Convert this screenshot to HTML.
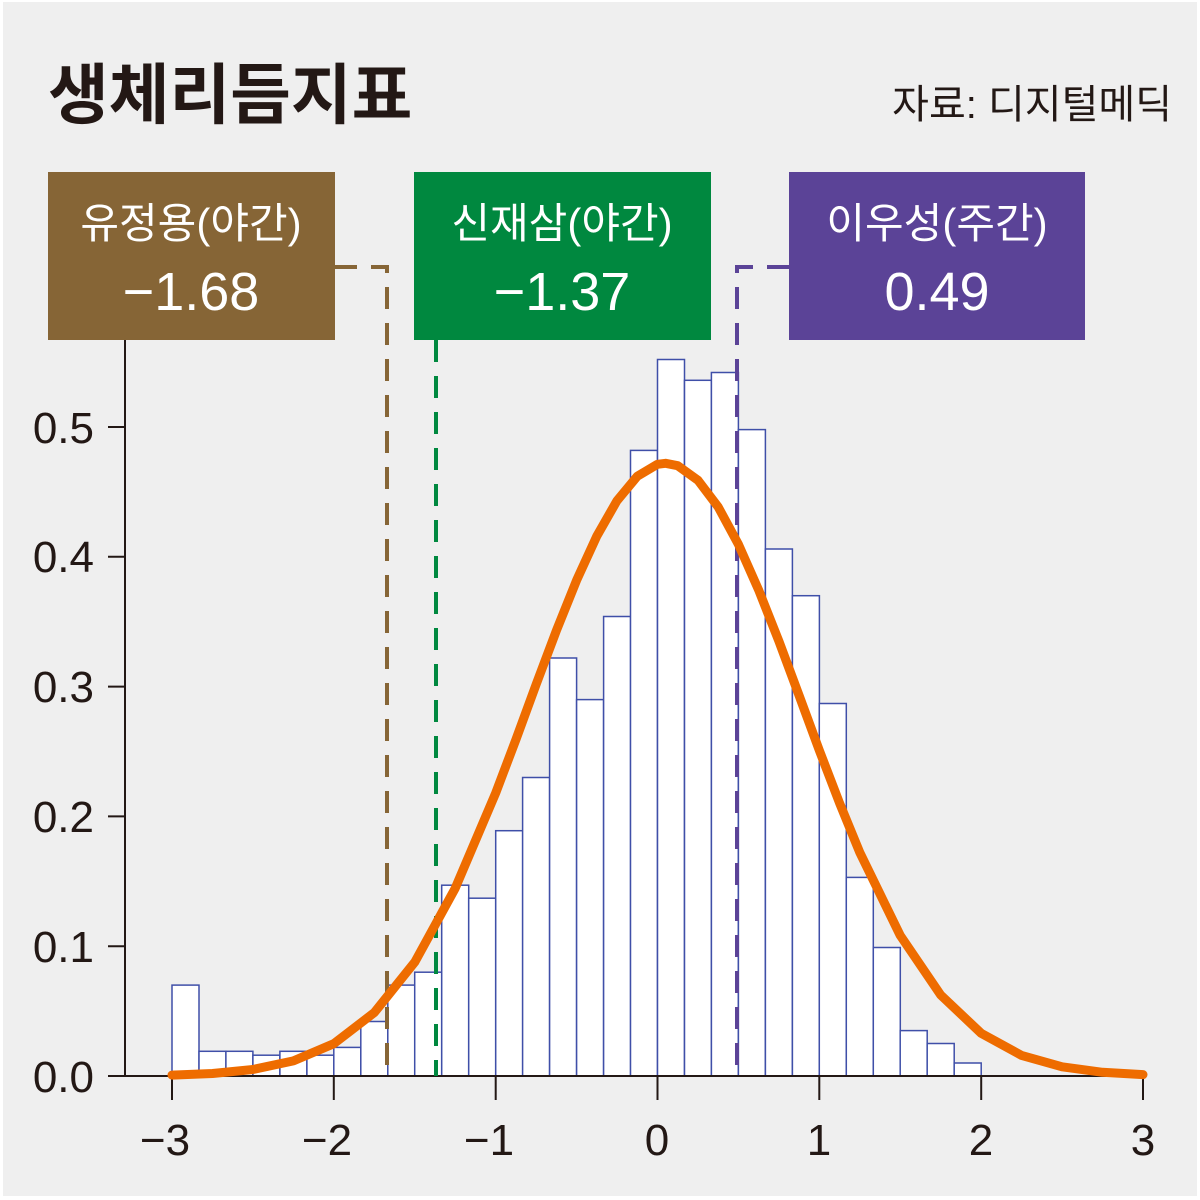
<!DOCTYPE html>
<html><head><meta charset="utf-8"><style>
html,body{margin:0;padding:0;background:#fff;}
svg{display:block;}
text{font-family:"Liberation Sans","Noto Sans CJK KR",sans-serif;}
</style></head><body>
<svg width="1200" height="1200" viewBox="0 0 1200 1200" xmlns="http://www.w3.org/2000/svg">
<rect x="3" y="2" width="1194" height="1194" fill="#EFEFEF"/>
<text x="48" y="118" font-size="66" font-weight="bold" fill="#231815" font-family="Noto Sans CJK KR, sans-serif">생체리듬지표</text>
<text x="1172" y="118" font-size="40" fill="#231815" text-anchor="end" font-family="Noto Sans CJK KR, sans-serif">자료: 디지털메딕</text>
<g fill="#fff" stroke="#3F4FA8" stroke-width="1.5">
<rect x="172.0" y="985.1" width="27" height="90.9"/>
<rect x="199.0" y="1051.3" width="27" height="24.7"/>
<rect x="225.9" y="1051.3" width="27" height="24.7"/>
<rect x="252.9" y="1055.2" width="27" height="20.8"/>
<rect x="279.9" y="1051.3" width="27" height="24.7"/>
<rect x="306.9" y="1055.2" width="27" height="20.8"/>
<rect x="333.8" y="1047.4" width="27" height="28.6"/>
<rect x="360.8" y="1021.5" width="27" height="54.5"/>
<rect x="387.8" y="985.1" width="27" height="90.9"/>
<rect x="414.7" y="972.2" width="27" height="103.8"/>
<rect x="441.7" y="885.2" width="27" height="190.8"/>
<rect x="468.7" y="898.2" width="27" height="177.8"/>
<rect x="495.7" y="830.7" width="27" height="245.3"/>
<rect x="522.6" y="777.5" width="27" height="298.5"/>
<rect x="549.6" y="658.0" width="27" height="418.0"/>
<rect x="576.6" y="699.6" width="27" height="376.4"/>
<rect x="603.6" y="616.5" width="27" height="459.5"/>
<rect x="630.5" y="450.4" width="27" height="625.6"/>
<rect x="657.5" y="359.5" width="27" height="716.5"/>
<rect x="684.5" y="380.3" width="27" height="695.7"/>
<rect x="711.4" y="372.5" width="27" height="703.5"/>
<rect x="738.4" y="429.6" width="27" height="646.4"/>
<rect x="765.4" y="549.0" width="27" height="527.0"/>
<rect x="792.4" y="595.7" width="27" height="480.3"/>
<rect x="819.3" y="703.5" width="27" height="372.5"/>
<rect x="846.3" y="877.4" width="27" height="198.6"/>
<rect x="873.3" y="947.5" width="27" height="128.5"/>
<rect x="900.2" y="1030.6" width="27" height="45.4"/>
<rect x="927.2" y="1043.5" width="27" height="32.5"/>
<rect x="954.2" y="1063.0" width="27" height="13.0"/>
</g>
<g stroke="#231815" stroke-width="2" fill="none">
<line x1="125" y1="340" x2="125" y2="1076"/>
<line x1="108" y1="1076" x2="1145" y2="1076"/>
<line x1="108" y1="946.2" x2="125" y2="946.2"/>
<line x1="108" y1="816.4" x2="125" y2="816.4"/>
<line x1="108" y1="686.6" x2="125" y2="686.6"/>
<line x1="108" y1="556.8" x2="125" y2="556.8"/>
<line x1="108" y1="427" x2="125" y2="427"/>
<line x1="172" y1="1076" x2="172" y2="1100"/>
<line x1="333.8" y1="1076" x2="333.8" y2="1100"/>
<line x1="495.7" y1="1076" x2="495.7" y2="1100"/>
<line x1="657.5" y1="1076" x2="657.5" y2="1100"/>
<line x1="819.3" y1="1076" x2="819.3" y2="1100"/>
<line x1="981.2" y1="1076" x2="981.2" y2="1100"/>
<line x1="1143" y1="1076" x2="1143" y2="1100"/>
</g>
<g font-size="44" fill="#231815" text-anchor="end">
<text x="94" y="1092">0.0</text>
<text x="94" y="962">0.1</text>
<text x="94" y="832">0.2</text>
<text x="94" y="702">0.3</text>
<text x="94" y="572">0.4</text>
<text x="94" y="443">0.5</text>
</g>
<g font-size="44" fill="#231815" text-anchor="middle">
<text x="165" y="1155">−3</text>
<text x="327" y="1155">−2</text>
<text x="489" y="1155">−1</text>
<text x="657" y="1155">0</text>
<text x="819" y="1155">1</text>
<text x="981" y="1155">2</text>
<text x="1143" y="1155">3</text>
</g>
<g stroke-width="4" fill="none" stroke-dasharray="22,14">
<path d="M335 267 H387 V1076" stroke="#866536"/>
<path d="M436 340 V1076" stroke="#00883F"/>
<path d="M789 267 H737 V1076" stroke="#5B4397"/>
</g>
<polyline fill="none" stroke="#EE6C00" stroke-width="9" stroke-linecap="round" stroke-linejoin="round"
points="172,1075.1 212.5,1073.5 253,1069.5 293.4,1060.9 333.8,1043.7 374.3,1012.6 414.8,962.1 455.2,888.3 495.7,793 515.9,739.6 536.1,684.5 556.4,630.6 576.6,580.3 596.8,536.1 617,500.7 637.3,476.3 657.5,464.3 665.6,463.3 677.7,465.7 698,480.3 718.2,507 738.4,544.3 758.6,589.9 778.9,641.2 799.1,695.5 819.3,750.3 839.6,803.2 859.8,852.5 900.2,935.4 940.7,995 981.2,1033.3 1021.6,1055.4 1062.1,1066.8 1102.5,1072.3 1143,1074.6"/>
<rect x="48" y="172" width="287" height="168" fill="#866536"/>
<rect x="414" y="172" width="297" height="168" fill="#00883F"/>
<rect x="789" y="172" width="296" height="168" fill="#5B4397"/>
<g fill="#fff" text-anchor="middle" font-family="Noto Sans CJK KR, sans-serif">
<text x="191" y="238" font-size="42">유정용(야간)</text>
<text x="191" y="310" font-size="54">−1.68</text>
<text x="562" y="238" font-size="42">신재삼(야간)</text>
<text x="562" y="310" font-size="54">−1.37</text>
<text x="937" y="238" font-size="42">이우성(주간)</text>
<text x="937" y="310" font-size="54">0.49</text>
</g>
</svg>
</body></html>
